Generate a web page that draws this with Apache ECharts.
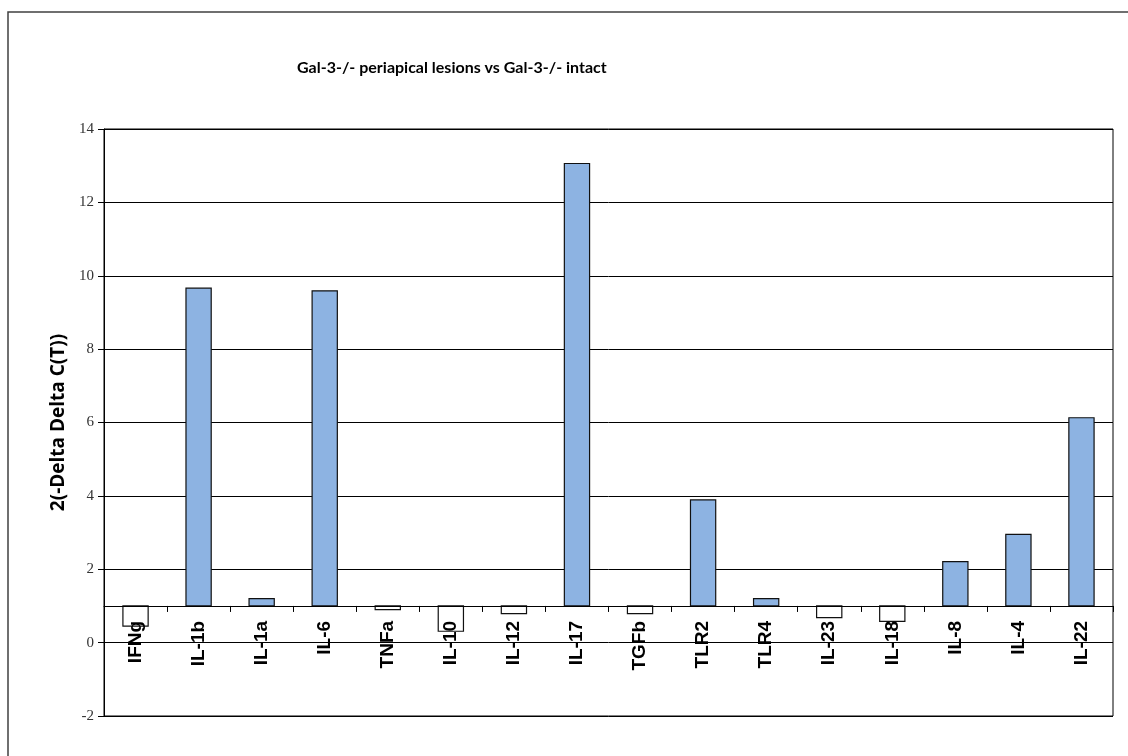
<!DOCTYPE html>
<html>
<head>
<meta charset="utf-8">
<script src="https://cdn.jsdelivr.net/npm/echarts@6/dist/echarts.min.js"></script>
<style>
html,body{margin:0;padding:0;background:#fff;}
#chart{width:1128px;height:756px;}
</style>
</head>
<body>
<div id="chart"></div>
<script>
const categories = ["IFNg","IL-1b","IL-1a","IL-6","TNFa","IL-10","IL-12","IL-17","TGFb","TLR2","TLR4","IL-23","IL-18","IL-8","IL-4","IL-22"];
const values = [0.45, 9.66, 1.2, 9.59, 0.9, 0.31, 0.79, 13.06, 0.79, 3.89, 1.2, 0.68, 0.58, 2.21, 2.95, 6.13];
const baseline = 1;
const yTicks = {min: -2, max: 14, interval: 2};
const titleText = "Gal-3-/- periapical lesions vs Gal-3-/- intact";
const yName = "2(-Delta Delta C(T))";

const W = 1128, H = 756;
const grid = {left: 104, top: 129, right: 15, bottom: 40};
const gridH = H - grid.top - grid.bottom;
const unitPx = gridH / (yTicks.max - yTicks.min);
const axisOffset = -(baseline - yTicks.min) * unitPx;

const chart = echarts.init(document.getElementById('chart'), null, {renderer: 'canvas'});
chart.setOption({
  animation: false,
  backgroundColor: '#fff',
  title: {
    text: titleText,
    left: 292, top: 55,
    textStyle: {fontFamily: 'Lato', fontWeight: 'bold', fontSize: 16, color: '#000'}
  },
  graphic: [{
    type: 'rect', silent: true, z: -1,
    shape: {x: 8, y: 12, width: 1300, height: 900},
    style: {fill: 'none', stroke: '#404040', lineWidth: 1.5}
  }],
  grid: {left: grid.left, top: grid.top, right: grid.right, bottom: grid.bottom,
         show: true, borderColor: '#000', borderWidth: 1},
  xAxis: {
    type: 'category',
    data: categories,
    position: 'bottom',
    offset: axisOffset,
    z: 10,
    axisLine: {onZero: false, lineStyle: {color: '#000', width: 1}},
    axisTick: {show: true, length: 6, alignWithLabel: false, lineStyle: {color: '#000'}},
    axisLabel: {rotate: 90, margin: 15, interval: 0, fontFamily: 'Liberation Sans',
                fontWeight: 'bold', fontSize: 19, color: '#000'},
    splitLine: {show: false}
  },
  yAxis: {
    type: 'value',
    min: yTicks.min, max: yTicks.max, interval: yTicks.interval,
    name: yName,
    nameLocation: 'middle',
    nameGap: 36,
    nameTextStyle: {fontFamily: 'Open Sans', fontWeight: 'bold', fontSize: 19, color: '#000'},
    axisLine: {show: true, lineStyle: {color: '#000'}},
    axisTick: {show: true, length: 6, lineStyle: {color: '#000'}},
    axisLabel: {fontFamily: 'Liberation Serif', fontSize: 15, color: '#333', margin: 10},
    splitLine: {show: true, lineStyle: {color: '#000', width: 1}}
  },
  series: [{
    type: 'custom',
    z: 2,
    data: values.map((v, i) => [i, v]),
    encode: {x: 0, y: 1},
    renderItem: function (params, api) {
      const i = api.value(0), v = api.value(1);
      const p1 = api.coord([i, baseline]);
      const p2 = api.coord([i, v]);
      const bw = api.size([1, 0])[0] * 0.4;
      const top = Math.min(p1[1], p2[1]);
      const h = Math.abs(p1[1] - p2[1]);
      return {
        type: 'rect',
        shape: {x: p1[0] - bw / 2, y: top, width: bw, height: h},
        style: {fill: v >= baseline ? '#8DB3E2' : '#ffffff', stroke: '#111', lineWidth: 1.2}
      };
    }
  }]
});
</script>
</body>
</html>
